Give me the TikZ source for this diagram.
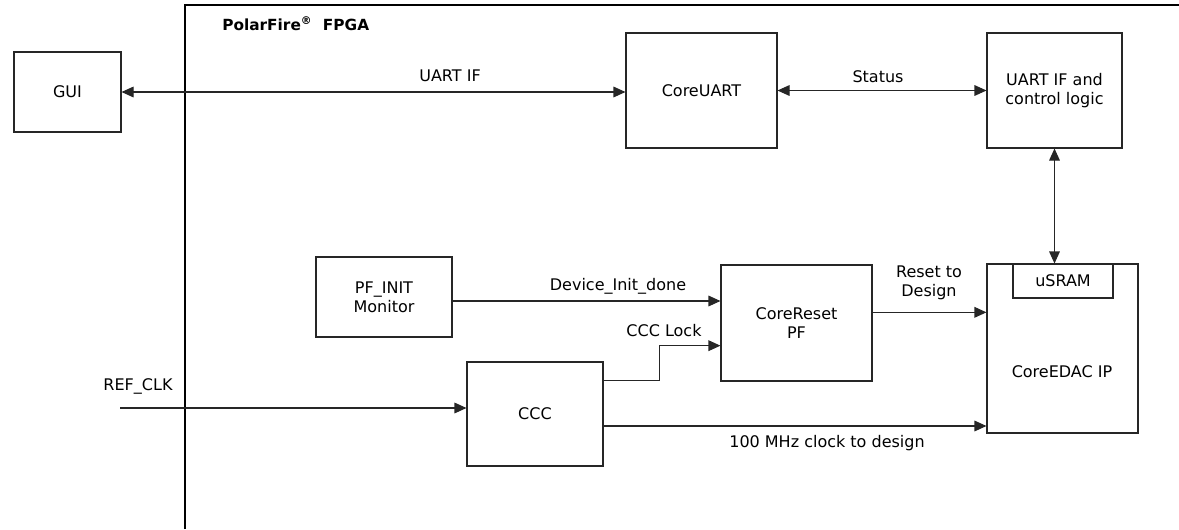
\documentclass[tikz,border=0pt]{standalone}
\usepackage{fontspec}
\setmainfont{DejaVu Sans}
\usetikzlibrary{calc,positioning,arrows.meta}

\begin{document}
\begin{tikzpicture}[
x=0.75pt, y=-0.75pt,
font=\fontsize{12}{14.4}\selectfont,
block/.style={draw=black!85, line width=0.8pt, align={center}, inner sep=0pt},
sig/.style={draw=black!85, line width=0.8pt, -{Triangle[length=9pt,width=8pt]}},
bisig/.style={draw=black!85, line width=0.8pt, {Triangle[length=9pt,width=8pt]}-{Triangle[length=9pt,width=8pt]}},
txt/.style={align={center}, inner sep=0pt}
]
\useasboundingbox (0,0) rectangle (1179,529);
% FPGA region
\draw[line width=0.8pt] (185,529) -- (185,5) -- (1179,5);
\node[txt, anchor=west, font=\fontsize{11.5}{14}\selectfont\bfseries] (fpga) at (222,24) {PolarFire\textsuperscript{®}\ \ FPGA};

\node[block, minimum width=107*0.75pt, minimum height=80*0.75pt] (gui) at (67.5,92) {GUI};
\node[block, minimum width=151*0.75pt, minimum height=115*0.75pt] (coreuart) at (701.5,90.5) {CoreUART};
\node[block, minimum width=135*0.75pt, minimum height=115*0.75pt] (uartctrl) at (1054.5,90.5) {UART IF and\\control logic};
\node[block, minimum width=136*0.75pt, minimum height=80*0.75pt] (pfinit) at (384,297) {PF\_INIT\\Monitor};
\node[block, minimum width=151*0.75pt, minimum height=116*0.75pt] (corereset) at (796.5,323) {CoreReset\\PF};
\node[block, minimum width=136*0.75pt, minimum height=104*0.75pt] (ccc) at (535,414) {CCC};
\node[block, minimum width=151*0.75pt, minimum height=169*0.75pt] (coreedac) at (1062.5,348.5) {};
\node[block, minimum width=100*0.75pt, minimum height=34*0.75pt] (usram) at (1063,281) {uSRAM};
\node[txt] (edaclabel) at (1062,372) {CoreEDAC IP};

\coordinate (refclk) at (120,408);

% connections
\draw[bisig] (gui.east) -- (gui.east -| coreuart.west);
\draw[bisig] (coreuart.east) -- (uartctrl.west);
\draw[bisig] (uartctrl.south) -- (uartctrl.south |- usram.north);
\draw[sig] ([yshift=-3pt]pfinit.east) -- ([yshift=-3pt]pfinit.east -| corereset.west);
\draw[sig] ([yshift=25pt]ccc.east) -- ++(42pt,0) |- ([yshift=-17pt]corereset.west);
\draw[sig] (refclk) -- (refclk -| ccc.west);
\draw[sig] ([yshift=-9pt]ccc.east) -- ([yshift=-9pt]ccc.east -| coreedac.west);
\draw[sig] ([yshift=8pt]corereset.east) -- ([yshift=8pt]corereset.east -| coreedac.west);

% labels
\node[txt] (uartif) at (450,76) {UART IF};
\node[txt] (status) at (878,77) {Status};
\node[txt] (initdone) at (618,286) {Device\_Init\_done};
\node[txt] (ccclock) at (664,331) {CCC Lock};
\node[txt] (rstdesign) at (929,283) {Reset to\\Design};
\node[txt] (clkdesign) at (827,443) {100 MHz clock to design};
\node[txt] (refclklabel) at (138,386) {REF\_CLK};
\end{tikzpicture}
\end{document}
